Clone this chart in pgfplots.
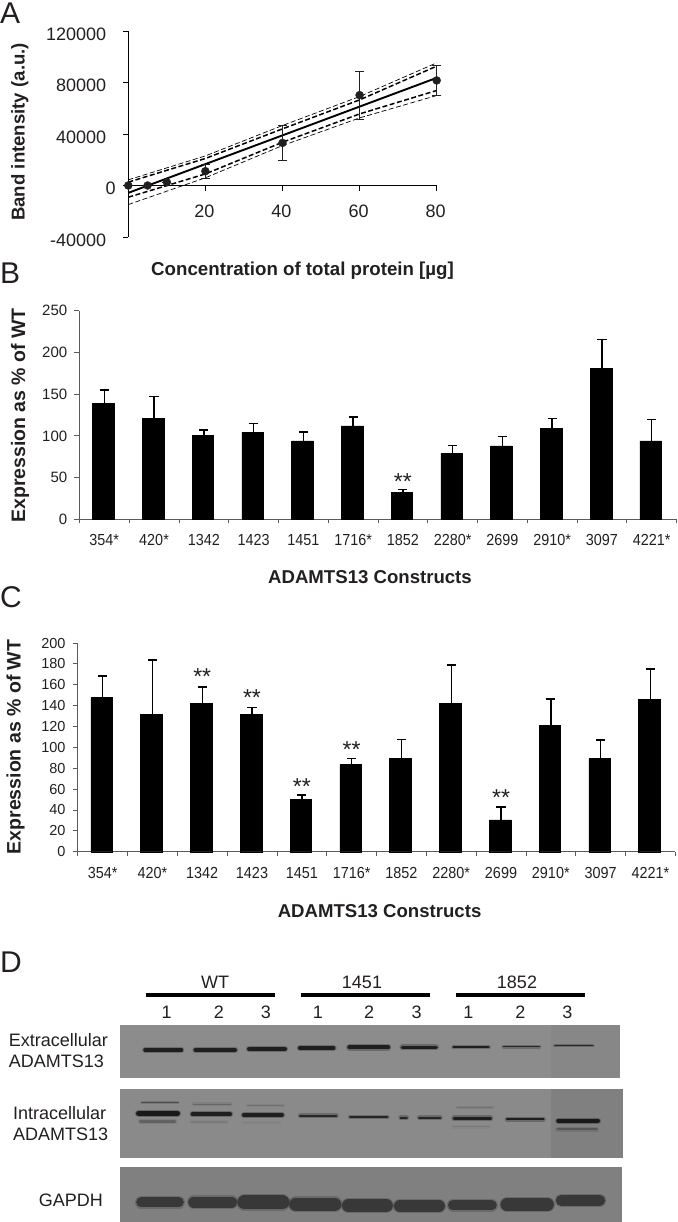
\documentclass[border=0pt]{standalone}
\usepackage{pgfplots}
\pgfplotsset{compat=1.18}
\usepackage{pgfplotstable}
\usepackage{fontspec}
\setmainfont{Liberation Sans}
\newcommand{\fs}[1]{\fontsize{#1bp}{#1bp}\selectfont}
\definecolor{ink}{HTML}{231F20}
\definecolor{axgray}{HTML}{5A5A5A}

% panel B: index, mean, upper error
\pgfplotstableread{
x y e
0 138.6 16.4
1 121.0 26.0
2 101.0 6.0
3 104.6 10.0
4 94.0 10.6
5 112.0 10.6
6 32.7 2.8
7 78.7 10.0
8 88.0 11.0
9 109.0 12.0
10 180.5 35.1
11 94.0 25.4
}\tableB
% panel C
\pgfplotstableread{
x y e
0 147.6 20.8
1 131.6 52.1
2 142.5 15.3
3 131.6 6.7
4 50.0 4.3
5 83.4 6.1
6 89.5 18.2
7 141.9 37.0
8 30.4 12.6
9 121.4 24.9
10 89.5 17.5
11 145.7 29.3
}\tableC
% panel A points
\pgfplotstableread{
x y e
0 0 0
5 0 0
10 2600 0
20 11100 5600
40 33100 13300
60 70200 18500
80 81600 11400
}\tableA

\pgfplotsset{
  barpanel/.style={
    scale only axis, anchor=south west,
    axis x line=bottom, axis y line=left,
    axis line style={axgray,line width=1bp,-},
    xmin=-0.5, xmax=11.5, ymin=0,
    xtick={0,...,11},
    xticklabels={354*,420*,1342,1423,1451,1716*,1852,2280*,2699,2910*,3097,4221*},
    minor xtick={-0.5,0.5,...,11.5},
    tick align=outside,
    major tick length=5bp, minor tick length=4bp,
    major x tick style={draw=none},
    minor x tick style={axgray,line width=.8bp},
    ytick style={axgray,line width=.8bp},
    xticklabel style={font=\fs{16},text=ink,xscale=0.9,inner sep=0pt,anchor=center,yshift=-16bp},
    yticklabel style={font=\fs{15},text=ink,inner sep=0pt,anchor=east,xshift=-7bp},
    /pgf/number format/assume math mode=true,
    xlabel style={font=\fs{18.6}\bfseries,text=ink,anchor=center},
    ylabel style={font=\fs{19.5}\bfseries,text=ink,anchor=center},
    clip=false,
  },
  barseries/.style={
    ybar, bar width=21.6bp, bar shift=-1bp, fill=black, draw=black,
    error bars/y dir=plus, error bars/y explicit,
    error bars/error bar style={line width=1.4bp,black},
    error bars/error mark options={rotate=90,mark size=4.6bp,line width=1.5bp,black},
  },
}
\tikzset{stars/.style={font=\fs{23},text=ink,inner sep=0pt,yshift=-3.6bp}}
% blot band: x0, x1, y, width, colour
\newcommand{\band}[5]{%
  \addplot[forget plot,line cap=round,line width=#4bp+2.4bp,#5,opacity=.3] coordinates {(#1,#3) (#2,#3)};
  \addplot[forget plot,line cap=round,line width=#4bp,#5] coordinates {(#1,#3) (#2,#3)};
}
\newcommand{\blot}[5]{%
  \addplot[forget plot,fill=#5,draw=none] coordinates {(#1,#3) (#2,#3) (#2,#4) (#1,#4)} --cycle;
}

\begin{document}
\begin{tikzpicture}[x=1bp,y=1bp]
\path (0,0) rectangle (677,-1222);

% panel letters
\node[font=\fs{30},text=ink,anchor=base west,inner sep=0pt] at (0,-23) {A};
\node[font=\fs{30},text=ink,anchor=base west,inner sep=0pt] at (0,-283) {B};
\node[font=\fs{30},text=ink,anchor=base west,inner sep=0pt] at (0,-607) {C};
\node[font=\fs{30},text=ink,anchor=base west,inner sep=0pt] at (0,-972) {D};

% A
\begin{axis}[
  at={(128.3bp,-237bp)}, anchor=south west, scale only axis,
  width=308.4bp, height=206bp,
  xmin=0, xmax=80, ymin=-40000, ymax=120000,
  axis x line=middle, axis y line=left,
  axis line style={black,line width=1.5bp,-},
  xtick={20,40,60,80}, ytick={-40000,0,40000,80000,120000},
  yticklabels={\raisebox{-4bp}{-40000},\raisebox{-3bp}{0\kern-10bp},40000,80000,120000},
  scaled ticks=false,
  /pgf/number format/assume math mode=true,
  tick align=outside, major tick length=5bp,
  tick style={black,line width=1bp},
  xticklabel style={font=\fs{18},text=ink,inner sep=0pt,anchor=center,yshift=-21bp,xshift=-1bp},
  yticklabel style={font=\fs{18},text=ink,inner sep=0pt,anchor=east,yshift=-3bp,xshift=-17bp},
  xlabel={Concentration of total protein [µg]},
  ylabel={Band intensity (a.u.)},
  xlabel style={font=\fs{18.7}\bfseries,text=ink,anchor=center,at={(axis description cs:0.565,-0.1645)}},
  ylabel style={font=\fs{18.6}\bfseries,text=ink,anchor=center,at={(axis description cs:-0.352,0.51)}},
  clip=false,
]
\addplot[black,line width=.7bp,dash pattern=on 5bp off 2.5bp] coordinates {(0,4400) (20,23000) (40,46600) (60,69100) (80,95300)};
\addplot[black,line width=1.5bp,dash pattern=on 5bp off 2.5bp] coordinates {(0,2600) (20,21000) (40,44000) (60,66500) (80,92700)};
\addplot[black,line width=1.5bp,dash pattern=on 5bp off 2.5bp] coordinates {(0,-9100) (20,9000) (40,33600) (60,55600) (80,73800)};
\addplot[black,line width=.7bp,dash pattern=on 5bp off 2.5bp] coordinates {(0,-14800) (20,6000) (40,31000) (60,52500) (80,69900)};
\addplot[black,line width=1.9bp] coordinates {(0,-5700) (80,83600)};
\addplot[only marks,mark=*,mark size=4bp,color=ink,
  error bars/y dir=both, error bars/y explicit,
  error bars/error bar style={line width=.8bp,ink},
  error bars/error mark options={rotate=90,mark size=4.4bp,line width=.8bp,ink},
] table[x=x,y=y,y error=e] {\tableA};
\end{axis}

% B
\begin{axis}[barpanel,
  at={(79.4bp,-519.3bp)}, width=597.2bp, height=208.6bp,
  ymax=250, ytick={0,50,...,250},
  xlabel={ADAMTS13 Constructs},
  ylabel={Expression as \% of WT},
  xlabel style={at={(axis description cs:0.4866,-0.275)}},
  ylabel style={at={(axis description cs:-0.0995,0.498)}},
]
\addplot[barseries] table[x=x,y=y,y error=e] {\tableB};
\node[stars] at (axis cs:6,49) {**};
\end{axis}

% C
\begin{axis}[barpanel,
  at={(77.7bp,-851.7bp)}, width=597.6bp, height=208.7bp,
  ymax=200, ytick={0,20,...,200},
  xlabel={ADAMTS13 Constructs},
  ylabel={Expression as \% of WT},
  xlabel style={at={(axis description cs:0.5052,-0.2845)}},
  ylabel style={at={(axis description cs:-0.1040,0.502)}},
  yticklabel style={font=\fs{14.5}},
]
\addplot[barseries] table[x=x,y=y,y error=e] {\tableC};
\node[stars] at (axis cs:2,171.6) {**};
\node[stars] at (axis cs:3,151.4) {**};
\node[stars] at (axis cs:4,65.8) {**};
\node[stars] at (axis cs:5,101.6) {**};
\node[stars] at (axis cs:8,55) {**};
\end{axis}

% D: blots, in coordinates of 1568 x 846 over the bottom of the page
\begin{axis}[
  at={(0bp,-1222bp)}, anchor=south west, scale only axis,
  width=677bp, height=282bp,
  xmin=0, xmax=1568, ymin=0, ymax=846, y dir=reverse,
  hide axis, clip=false,
]
\blot{277}{1437}{256}{415}{black!45}
\blot{1275}{1437}{256}{415}{black!47}
\blot{277}{1442}{447}{653}{black!46}
\blot{1275}{1442}{447}{653}{black!50}
\blot{277}{1441}{681}{846}{black!50}
% group bars
\addplot[forget plot,black,line width=4bp] coordinates {(337,164) (636,164)};
\addplot[forget plot,black,line width=4bp] coordinates {(696,164) (996,164)};
\addplot[forget plot,black,line width=4bp] coordinates {(1056,164) (1356,164)};
% extracellular
\band{336}{420}{330}{3.6}{black!88}
\band{453}{544}{330}{4.2}{black!88}
\band{577}{660}{327}{4}{black!88}
\band{694}{773}{324}{3.3}{black!88}
\band{809}{899}{322}{4}{black!88}
\band{932}{1010}{322}{3.6}{black!88}
\band{1050}{1132}{322}{1.8}{black!88}
\band{1166}{1249}{320}{1.6}{black!85}
\band{1285}{1373}{317}{1.2}{black!85}
% intracellular
\band{321}{411}{520}{5}{black!90}
\band{446}{533}{523}{3.8}{black!88}
\band{565}{653}{525}{4}{black!88}
\band{695}{779}{527}{2.2}{black!85}
\band{811}{897}{531}{2.2}{black!85}
\band{928}{942}{533}{2.2}{black!85}
\band{971}{1020}{533}{2.2}{black!85}
\band{1052}{1136}{535}{3.4}{black!88}
\band{1174}{1259}{538}{2}{black!88}
\band{1293}{1385}{542}{3.8}{black!90}
\band{328}{413}{487}{.7}{black!70}
\band{448}{535}{492}{.7}{black!60}
\band{573}{657}{495}{.6}{black!56}
\band{1058}{1142}{503}{.6}{black!56}
\band{325}{405}{544}{2.4}{black!62}
\band{443}{525}{546}{1.6}{black!52}
\band{563}{647}{548}{1.6}{black!50}
\band{1050}{1132}{560}{1.6}{black!52}
\band{1291}{1382}{568}{2.2}{black!66}
% GAPDH
\band{327}{414}{787}{10}{black!78}
\band{449}{536}{787}{11.4}{black!78}
\band{566}{654}{787}{14}{black!78}
\band{685}{775}{793}{13.4}{black!78}
\band{807}{895}{797}{12.8}{black!78}
\band{926}{1017}{798}{11.6}{black!78}
\band{1049}{1139}{796}{10}{black!78}
\band{1174}{1268}{794}{12.8}{black!78}
\band{1300}{1389}{781}{10.8}{black!78}
\end{axis}

% D: text
\begin{scope}[every node/.style={font=\fs{18},text=ink,inner sep=0pt}]
\node at (215,-982.7) {WT};
\node at (362,-982.7) {1451};
\node at (517,-982.7) {1852};
\foreach \x/\n in {166.7/1,218.9/2,266/3,317.8/1,369.2/2,416.7/3,468.5/1,520.3/2,567.4/3}
  \node at (\x,-1012.7) {\n};
\node[anchor=west] at (8.6,-1040) {Extracellular};
\node[anchor=west] at (8.6,-1061) {ADAMTS13};
\node[anchor=west] at (13,-1112.7) {Intracellular};
\node[anchor=west] at (13,-1134) {ADAMTS13};
\node at (70.8,-1200.7) {GAPDH};
\end{scope}
\end{tikzpicture}
\end{document}
